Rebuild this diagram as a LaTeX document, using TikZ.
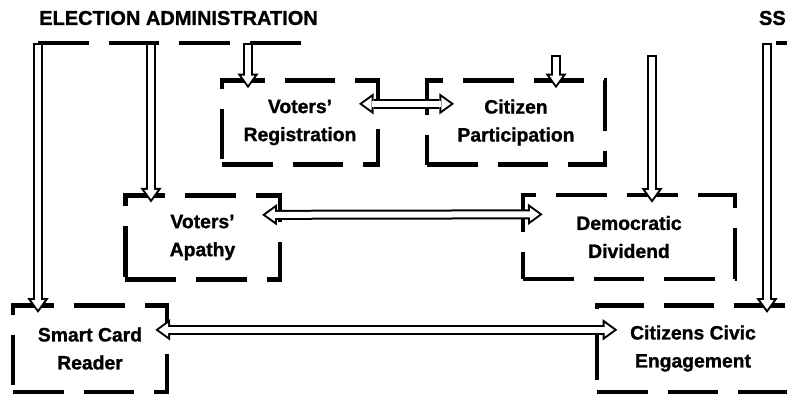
\documentclass[tikz,border=0pt]{standalone}
\usepackage{fontspec}
\setmainfont{Liberation Sans}[BoldFeatures={FakeBold=1.2}]
\usetikzlibrary{arrows.meta,positioning}

\begin{document}
\begin{tikzpicture}[
  x=0.75pt, y=-0.75pt,
  factorbox/.style={rectangle, draw, line width=3.5pt, dash pattern=on 38pt off 15pt, align=center, minimum height=63pt, font=\fontsize{14.5}{21}\selectfont\bfseries},
  frameline/.style={line width=3.5pt, dash pattern=on 38pt off 15pt},
  hollow/.style={line width=7.5pt, -{Triangle[length=11pt, width=16pt, line width=0pt]},
    postaction={draw=white, line width=4.5pt, shorten <=1.5pt, shorten >=2.5pt, -{Triangle[length=7pt, width=10pt, line width=0pt]}}},
  hollowboth/.style={line width=7.5pt, {Triangle[length=11pt, width=16pt, line width=0pt]}-{Triangle[length=11pt, width=16pt, line width=0pt]},
    postaction={draw=white, line width=4.5pt, shorten <=2.5pt, shorten >=2.5pt, {Triangle[length=7pt, width=10pt, line width=0pt]}-{Triangle[length=7pt, width=10pt, line width=0pt]}}},
  heading/.style={inner sep=0pt, font=\fontsize{15}{17}\selectfont\bfseries}
]
  \useasboundingbox (0,0) rectangle (787,396);

  % headings
  \node[heading, anchor=west] (admin) at (39,18) {ELECTION ADMINISTRATION};
  \node[heading, anchor=east] (proc)  at (786,18) {SS};

  % frame
  \draw[frameline] (38,43) -- (305,43);
  \draw[line width=3.5pt] (776,43) -- (787,43);
  \coordinate (topA) at (38,43);
  \coordinate (topB) at (151,43);
  \coordinate (topC) at (248,43);
  \coordinate (topD) at (556,55);
  \coordinate (topE) at (652,55);
  \coordinate (topF) at (767,43);

  % factors
  \node[factorbox, minimum width=117pt] (vreg)  at (300,122.5) {Voters'\\Registration};
  \node[factorbox, minimum width=133.5pt] (cpart) at (516,122.5) {Citizen\\Participation};
  \node[factorbox, minimum width=116pt] (vapa)  at (202.5,237.5) {Voters'\\Apathy};
  \node[factorbox, minimum width=159pt] (ddiv)  at (629,237) {Democratic\\Dividend};
  \node[factorbox, minimum width=115.5pt, minimum height=65pt] (scr) at (90,348.5) {Smart Card\\Reader};
  \node[factorbox, minimum width=144pt, minimum height=65pt] (cce) at (693,348.5) {Citizens Civic\\Engagement};

  % arrows
  \draw[hollow] (topA) -- ([yshift=-7.5pt]topA |- scr.north);
  \draw[hollow] (topB) -- ([yshift=-7pt]topB |- vapa.north);
  \draw[hollow] (topC) -- ([yshift=-7.5pt]topC |- vreg.north);
  \draw[hollow] (topD) -- ([yshift=-7.5pt]topD |- cpart.north);
  \draw[hollow] (topE) -- ([yshift=-7.5pt]topE |- ddiv.north);
  \draw[hollow] (topF) -- ([yshift=-7.5pt]topF |- cce.north);

  \draw[hollowboth] ([xshift=-16pt, yshift=14pt]vreg.east) -- ([xshift=22pt, yshift=14pt]cpart.west);
  \draw[hollowboth] ([xshift=-15pt, yshift=17pt]vapa.east) -- ([xshift=16.5pt, yshift=17pt]ddiv.west);
  \draw[hollowboth] ([xshift=-10.5pt, yshift=14pt]scr.east) -- ([xshift=17pt, yshift=14pt]cce.west);
\end{tikzpicture}
\end{document}
